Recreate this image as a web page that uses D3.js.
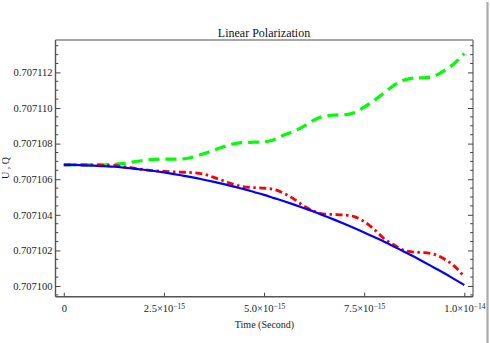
<!DOCTYPE html>
<html>
<head>
<meta charset="utf-8">
<script src="https://cdn.jsdelivr.net/npm/d3@7"></script>
<style>
  html, body { margin: 0; padding: 0; background: #fff; }
  svg { display: block; font-family: "Liberation Serif", "DejaVu Serif", serif; }
</style>
</head>
<body>
<svg id="chart" width="490" height="343"></svg>
<script>
// Time samples (seconds)
const time = d3.range(41).map(i => i * 2.5e-16);

// U (blue, solid)
const seriesU = [
  0.7071068, 0.70710680, 0.70710678, 0.70710676, 0.70710673, 0.70710670, 0.70710665, 0.70710659,
  0.70710653, 0.70710646, 0.70710638, 0.70710629, 0.70710619, 0.70710609, 0.70710597, 0.70710585,
  0.70710572, 0.70710558, 0.70710544, 0.70710528, 0.70710512, 0.70710494, 0.70710476, 0.70710457,
  0.70710437, 0.70710417, 0.70710395, 0.70710373, 0.70710350, 0.70710326, 0.70710301, 0.70710275,
  0.70710249, 0.70710221, 0.70710193, 0.70710164, 0.70710134, 0.70710103, 0.70710072, 0.70710039,
  0.70710006
];

// Q (red, dash-dot)
const seriesQ = [
  0.7071068, 0.7071068, 0.7071068, 0.7071068, 0.70710679, 0.70710677, 0.70710671, 0.70710662,
  0.70710654, 0.70710648, 0.70710644, 0.70710641, 0.70710639, 0.70710636, 0.70710628, 0.70710610,
  0.70710590, 0.70710570, 0.70710557, 0.70710553, 0.70710550, 0.70710542, 0.70710520, 0.70710488,
  0.70710448, 0.70710420, 0.70710404, 0.70710402, 0.70710399, 0.70710390, 0.70710362, 0.70710318,
  0.70710265, 0.70710230, 0.70710200, 0.70710190, 0.70710188, 0.70710178, 0.70710152, 0.70710112,
  0.70710052
];

// third component (green, dashed)
const seriesV = [
  0.7071068, 0.7071068, 0.7071068, 0.7071068, 0.70710681, 0.70710683, 0.70710689, 0.70710698,
  0.70710706, 0.70710711, 0.70710713, 0.70710713, 0.70710715, 0.70710726, 0.70710744, 0.70710764,
  0.70710783, 0.70710799, 0.70710806, 0.70710808, 0.70710810, 0.70710822, 0.70710848, 0.70710870,
  0.70710898, 0.70710933, 0.70710955, 0.70710960, 0.70710962, 0.70710974, 0.70711005, 0.70711043,
  0.70711086, 0.70711128, 0.70711157, 0.70711168, 0.70711170, 0.70711180, 0.70711210, 0.70711250,
  0.70711307
];

const xTickValues = [0, 2.5e-15, 5e-15, 7.5e-15, 1e-14];
const xTickMantissa = ["0", "2.5", "5.0", "7.5", "1.0"];
const xTickExponent = ["", "\u221215", "\u221215", "\u221215", "\u221214"];
const yTickValues = [0.7071, 0.707102, 0.707104, 0.707106, 0.707108, 0.70711, 0.707112];

const svg = d3.select("#chart");
const plotLeft = 55.5, plotRight = 473, plotTop = 40, plotBottom = 296.7;

const x = d3.scaleLinear().domain([-2.07e-16, 1.0217e-14]).range([plotLeft, plotRight]);
const y = d3.scaleLinear().domain([0.7070994, 0.70711382]).range([plotBottom, plotTop]);

// minor y ticks every 0.5e-6
const yMinor = d3.range(0, 30).map(i => 0.7070995 + i * 5e-7)
  .filter(v => v < 0.70711382 && !yTickValues.some(t => Math.abs(t - v) < 1e-10));

const tickColor = "#444";

// frame: top/right lighter, left/bottom darker
svg.append("line").attr("x1", plotLeft).attr("x2", plotRight).attr("y1", plotTop).attr("y2", plotTop)
  .attr("stroke", "#888").attr("stroke-width", 1.6);
svg.append("line").attr("x1", plotRight).attr("x2", plotRight).attr("y1", plotTop).attr("y2", plotBottom)
  .attr("stroke", "#888").attr("stroke-width", 1.6);
svg.append("line").attr("x1", plotLeft).attr("x2", plotLeft).attr("y1", plotTop).attr("y2", plotBottom)
  .attr("stroke", "#555").attr("stroke-width", 1.4);
svg.append("line").attr("x1", plotLeft).attr("x2", plotRight).attr("y1", plotBottom).attr("y2", plotBottom)
  .attr("stroke", "#555").attr("stroke-width", 1.4);

// left axis
const yAxis = svg.append("g").attr("transform", `translate(${plotLeft},0)`)
  .call(d3.axisLeft(y).tickValues(yTickValues).tickSize(-5).tickPadding(3)
    .tickFormat(d3.format(".6f")));
yAxis.select(".domain").remove();
yAxis.selectAll("line").attr("stroke", tickColor);
yAxis.selectAll("text").attr("font-size", "10.5px").attr("fill", "#222")
  .attr("font-family", "Liberation Serif, serif");

// right axis ticks (no labels)
const yAxisR = svg.append("g").attr("transform", `translate(${plotRight},0)`)
  .call(d3.axisRight(y).tickValues(yTickValues).tickSize(-5).tickFormat(""));
yAxisR.select(".domain").remove();
yAxisR.selectAll("line").attr("stroke", tickColor);

// minor ticks on both sides
svg.append("g").selectAll("line").data(yMinor).join("line")
  .attr("x1", plotLeft).attr("x2", plotLeft + 2.8)
  .attr("y1", d => y(d)).attr("y2", d => y(d)).attr("stroke", tickColor);
svg.append("g").selectAll("line").data(yMinor).join("line")
  .attr("x1", plotRight).attr("x2", plotRight - 2.8)
  .attr("y1", d => y(d)).attr("y2", d => y(d)).attr("stroke", tickColor);

// bottom axis
const xAxis = svg.append("g").attr("transform", `translate(0,${plotBottom})`)
  .call(d3.axisBottom(x).tickValues(xTickValues).tickSize(-4).tickPadding(8).tickFormat(""));
xAxis.select(".domain").remove();
xAxis.selectAll("line").attr("stroke", tickColor);
xAxis.selectAll(".tick").each(function (d, i) {
  const t = d3.select(this).select("text")
    .attr("font-size", "10.5px").attr("fill", "#222")
    .attr("font-family", "Liberation Serif, serif")
    .attr("dy", "0.71em");
  t.text(null);
  if (xTickExponent[i]) {
    t.append("tspan").text(xTickMantissa[i] + "\u00d710");
    t.append("tspan").attr("font-size", "7.5px").attr("dy", "-0.45em").text(xTickExponent[i]);
  } else {
    t.append("tspan").text(xTickMantissa[i]);
  }
});

// curves
const line = (vals) => d3.line()
  .x((d, i) => x(time[i]))
  .y(d => y(d))
  .curve(d3.curveMonotoneX)(vals);

svg.append("path").attr("d", line(seriesV)).attr("fill", "none")
  .attr("stroke", "#00ff00").attr("stroke-width", 3.2)
  .attr("stroke-dasharray", "11,6");
svg.append("path").attr("d", line(seriesQ)).attr("fill", "none")
  .attr("stroke", "#ff0000").attr("stroke-width", 2.8)
  .attr("stroke-dasharray", "7,3.5,2.5,3.5");
svg.append("path").attr("d", line(seriesU)).attr("fill", "none")
  .attr("stroke", "#0000ff").attr("stroke-width", 2.2);

// titles
svg.append("text").attr("x", 264).attr("y", 36.5).attr("text-anchor", "middle")
  .attr("font-size", "12px").attr("fill", "#111").text("Linear Polarization");
svg.append("text").attr("x", 264.5).attr("y", 327.5).attr("text-anchor", "middle")
  .attr("font-size", "10px").attr("fill", "#222").text("Time (Second)");
svg.append("text").attr("transform", "translate(9,168) rotate(-90)")
  .attr("text-anchor", "middle").attr("font-size", "10px").attr("fill", "#222")
  .text("U , Q");

// page edge rule on the right
svg.append("line").attr("x1", 487.5).attr("x2", 487.5).attr("y1", 2).attr("y2", 343)
  .attr("stroke", "#aaa").attr("stroke-width", 2.2);
</script>
</body>
</html>
